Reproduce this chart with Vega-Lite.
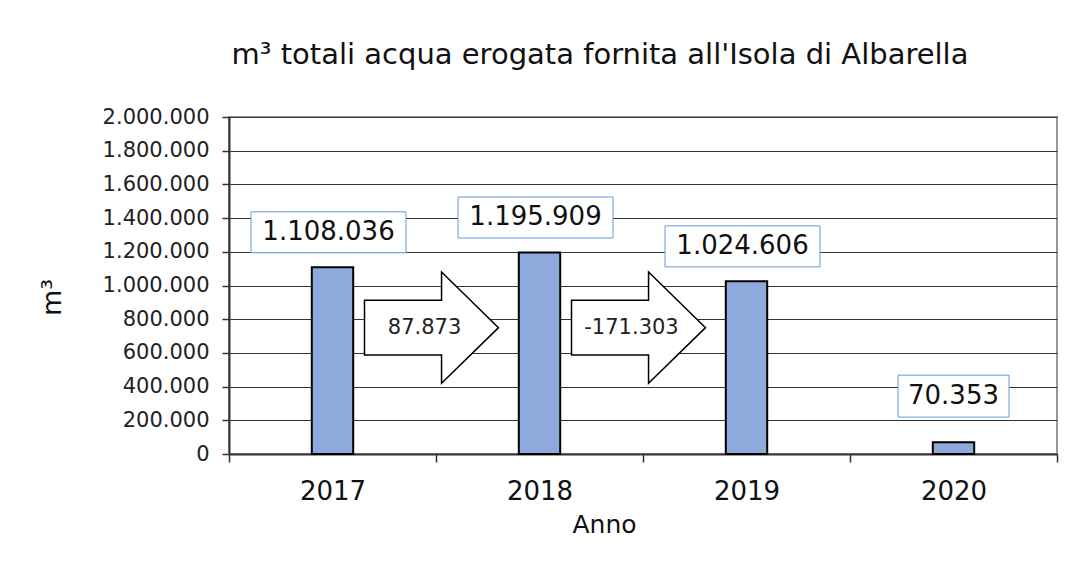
{
  "$schema": "https://vega.github.io/schema/vega-lite/v6.json",
  "width": 828,
  "height": 337,
  "autosize": {"type": "none"},
  "padding": {"left": 229, "top": 117, "right": 21, "bottom": 129},
  "background": "white",
  "config": {
    "locale": {"number": {"decimal": ",", "thousands": ".", "grouping": [3], "currency": ["€", ""], "minus": "-"}},
    "view": {"stroke": "#999999", "strokeWidth": 2},
    "font": "DejaVu Sans",
    "axisY": {
      "tickCount": 10,
      "format": ",d",
      "labelOverlap": false,
      "labelFontSize": 21,
      "labelColor": "#222222",
      "labelPadding": 13,
      "tickSize": 7,
      "tickColor": "#333333",
      "tickWidth": 1.5,
      "domainColor": "#333333",
      "domainWidth": 2,
      "grid": true,
      "gridColor": "#333333",
      "gridWidth": 1.2,
      "titleFontSize": 27,
      "titleFontWeight": "normal",
      "titleColor": "#111111",
      "titleAngle": -90,
      "titleX": -177,
      "titleY": 180,
      "titleAlign": "center",
      "titleBaseline": "middle"
    }
  },
  "title": {
    "text": "m³ totali acqua erogata fornita all'Isola di Albarella",
    "fontSize": 29,
    "fontWeight": "normal",
    "color": "#111111",
    "anchor": "middle",
    "frame": "group",
    "dx": -43,
    "offset": 13,
    "baseline": "alphabetic"
  },
  "datasets": {
    "water": [
      {"anno": "2017", "m3": 1108036},
      {"anno": "2018", "m3": 1195909},
      {"anno": "2019", "m3": 1024606},
      {"anno": "2020", "m3": 70353}
    ],
    "diffs": [
      {"anno": "2017", "diff": 87873},
      {"anno": "2018", "diff": -171303}
    ]
  },
  "encoding": {
    "x": {
      "field": "anno",
      "type": "ordinal",
      "scale": {"domain": ["2017", "2018", "2019", "2020"], "paddingInner": 0, "paddingOuter": 0},
      "axis": {
        "title": "Anno",
        "labelAngle": 0,
        "labelFontSize": 26,
        "labelColor": "#111111",
        "labelPadding": 16,
        "tickBand": "extent",
        "tickSize": 8,
        "tickColor": "#333333",
        "tickWidth": 1.5,
        "domainColor": "#333333",
        "domainWidth": 2,
        "titleFontSize": 25,
        "titleFontWeight": "normal",
        "titleColor": "#111111",
        "titleX": 375,
        "titleY": 78,
        "titleBaseline": "alphabetic",
        "titleAlign": "center"
      }
    }
  },
  "layer": [
    {
      "data": {"name": "water"},
      "mark": {"type": "bar", "width": {"band": 0.2}, "fill": "#8EA9DB", "stroke": "#000000", "strokeWidth": 2},
      "encoding": {
        "y": {
          "field": "m3",
          "type": "quantitative",
          "title": "m³",
          "scale": {"domain": [0, 2000000], "nice": false, "zero": true}
        }
      }
    },
    {
      "data": {"name": "water"},
      "transform": [{"filter": "datum.m3 >= 1000000"}],
      "mark": {"type": "point", "shape": "M-1,-0.2645H1V0.2645H-1Z", "size": 24025, "filled": true, "fill": "white", "stroke": "#6A98D8", "strokeWidth": 1, "opacity": 1, "yOffset": -35, "xOffset": -4},
      "encoding": {"y": {"field": "m3", "type": "quantitative", "title": "m³"}}
    },
    {
      "data": {"name": "water"},
      "transform": [{"filter": "datum.m3 >= 1000000"}],
      "mark": {"type": "text", "fontSize": 26, "color": "#111111", "baseline": "middle", "align": "center", "yOffset": -35, "xOffset": -4},
      "encoding": {
        "y": {"field": "m3", "type": "quantitative", "title": "m³"},
        "text": {"field": "m3", "type": "quantitative", "format": ",d"}
      }
    },
    {
      "data": {"name": "water"},
      "transform": [{"filter": "datum.m3 < 1000000"}],
      "mark": {"type": "point", "shape": "M-1,-0.378H1V0.378H-1Z", "size": 12321, "filled": true, "fill": "white", "stroke": "#6A98D8", "strokeWidth": 1, "opacity": 1, "yOffset": -46},
      "encoding": {"y": {"field": "m3", "type": "quantitative", "title": "m³"}}
    },
    {
      "data": {"name": "water"},
      "transform": [{"filter": "datum.m3 < 1000000"}],
      "mark": {"type": "text", "fontSize": 26, "color": "#111111", "baseline": "middle", "align": "center", "yOffset": -46},
      "encoding": {
        "y": {"field": "m3", "type": "quantitative", "title": "m³"},
        "text": {"field": "m3", "type": "quantitative", "format": ",d"}
      }
    },
    {
      "data": {"name": "diffs"},
      "mark": {"type": "point", "shape": "M-1,-0.41L0.15,-0.41L0.15,-0.83L1,0L0.15,0.83L0.15,0.41L-1,0.41Z", "size": 17956, "filled": true, "fill": "white", "stroke": "#000000", "strokeWidth": 1.5, "opacity": 1, "xOffset": 99},
      "encoding": {"y": {"datum": 750000, "type": "quantitative", "title": "m³"}}
    },
    {
      "data": {"name": "diffs"},
      "mark": {"type": "text", "fontSize": 21, "color": "#222222", "baseline": "middle", "align": "center", "xOffset": 92},
      "encoding": {
        "y": {"datum": 750000, "type": "quantitative", "title": "m³"},
        "text": {"field": "diff", "type": "quantitative", "format": ",d"}
      }
    }
  ]
}
